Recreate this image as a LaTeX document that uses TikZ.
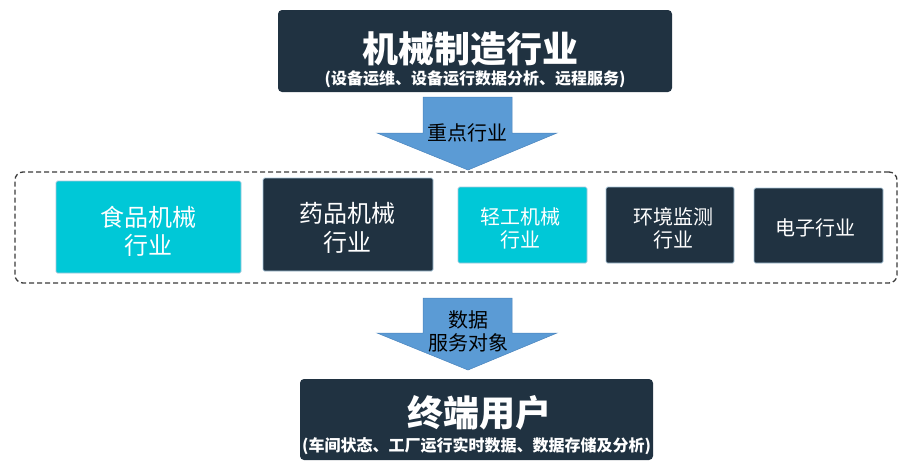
\documentclass[tikz,border=0pt]{standalone}
\usepackage{fontspec}
\setmainfont{Noto Sans CJK SC}
\definecolor{darkc}{HTML}{203241}
\definecolor{cyanc}{HTML}{00C8D7}
\definecolor{arrowc}{HTML}{5B9BD5}
\definecolor{arrowe}{HTML}{4A84BD}
\definecolor{edgec}{HTML}{A8C6DA}
\definecolor{dashc}{HTML}{3A3A3A}
\begin{document}
\begin{tikzpicture}[x=1pt,y=-1pt,
  bigbox/.style={fill=darkc, rounded corners=4pt, draw=none, inner sep=0pt},
  tilebox/.style={rounded corners=1.5pt, draw=edgec, line width=0.7pt, inner sep=0pt},
  darktile/.style={tilebox, fill=darkc},
  cyantile/.style={tilebox, fill=cyanc},
  tiletext/.style={text=white, align=center, inner sep=0pt},
  bigtitle/.style={text=white, font=\fontsize{36}{40}\selectfont\bfseries, inner sep=0pt},
  subtitle/.style={text=white, font=\fontsize{16}{18}\selectfont\bfseries, inner sep=0pt},
  blockarrow/.style={fill=arrowc, draw=arrowe, line width=0.5pt},
  arrowtext/.style={text=black, align=center, font=\fontsize{20}{23}\selectfont, inner sep=0pt}
]
\useasboundingbox (0,0) rectangle (919,475);

% top box
\node[bigbox, minimum width=394pt, minimum height=82pt] (top) at (475,51) {};
\node[bigtitle] (toptitle) at (470,48.5) {机械制造行业};
\node[subtitle] (topsub) at (475,79.5) {(设备运维、设备运行数据分析、远程服务)};

% arrow 1
\draw[blockarrow] (423,97) -- (512,97) -- (512,133) -- (557,133) -- (468,170) -- (377,133) -- (423,133) -- cycle;
\node[arrowtext] (a1) at (467,133) {重点行业};

% dashed group
\node[draw=dashc, dash pattern=on 5pt off 3pt, line width=1.3pt, rounded corners=8pt,
      minimum width=882pt, minimum height=111pt, inner sep=0pt] (group) at (456,227.5) {};

% tiles
\node[cyantile, minimum width=185pt, minimum height=92pt] (t1) at (148.5,227) {};
\node[tiletext, font=\fontsize{24}{28}\selectfont] (t1text) at (148.5,231) {食品机械\\行业};
\node[darktile, minimum width=170pt, minimum height=93pt] (t2) at (348,224.5) {};
\node[tiletext, font=\fontsize{24}{29}\selectfont] (t2text) at (347,227.5) {药品机械\\行业};
\node[cyantile, minimum width=129pt, minimum height=76pt] (t3) at (522.5,225) {};
\node[tiletext, font=\fontsize{20}{23}\selectfont] (t3text) at (520,228.5) {轻工机械\\行业};
\node[darktile, minimum width=128pt, minimum height=76pt] (t4) at (670,225) {};
\node[tiletext, font=\fontsize{20}{23}\selectfont] (t4text) at (673,228.5) {环境监测\\行业};
\node[darktile, minimum width=129pt, minimum height=75pt] (t5) at (818.5,225.5) {};
\node[tiletext, font=\fontsize{20}{23}\selectfont] (t5text) at (815,228) {电子行业};

% arrow 2
\draw[blockarrow] (423,298) -- (512,298) -- (512,333) -- (557,333) -- (468,370) -- (377,333) -- (423,333) -- cycle;
\node[arrowtext] (a2) at (468,331.5) {数据\\服务对象};

% bottom box
\node[bigbox, minimum width=353pt, minimum height=81pt] (bottom) at (476.5,419.5) {};
\node[bigtitle] (bottitle) at (479,413) {终端用户};
\node[subtitle] (botsub) at (476.5,446) {(车间状态、工厂运行实时数据、数据存储及分析)};
\end{tikzpicture}
\end{document}
